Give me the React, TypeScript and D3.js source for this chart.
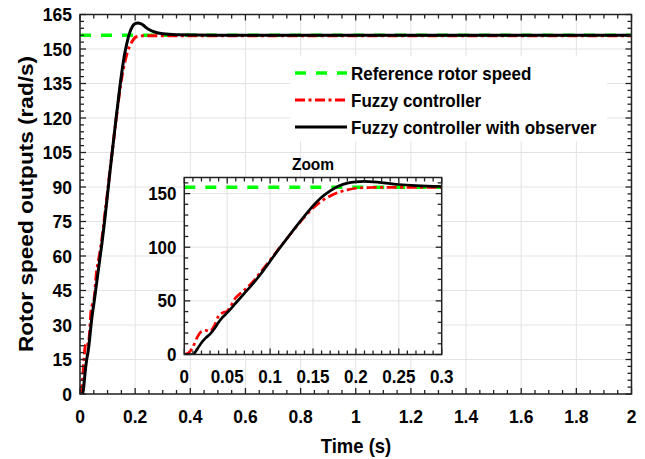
import React from "react";
import * as d3 from "d3";

// time samples (s) shared by both controller responses
const timeS = [
  0, 0.005, 0.01, 0.015, 0.02, 0.025, 0.03, 0.035, 0.04, 0.045, 0.05, 0.06, 0.07, 0.08, 0.09,
  0.1, 0.11, 0.12, 0.13, 0.14, 0.15, 0.16, 0.17, 0.18, 0.19, 0.2, 0.21, 0.22, 0.23, 0.24,
  0.25, 0.27, 0.3, 0.35, 0.5, 1, 2,
];
const fuzzySpeed = [
  0, 1.5, 7, 16, 21.5, 22.5, 21.5, 27, 36, 39, 40.5, 53, 60, 68, 78,
  88, 98.5, 108.5, 118.5, 128, 136.5, 143, 147.8, 151.3, 153.5, 155, 155.5, 155.7, 155.8, 155.8,
  155.8, 155.8, 155.8, 155.8, 155.8, 155.8, 155.8,
];
const observerSpeed = [
  0, 0, 0, 5, 11, 15.5, 19, 24, 30, 35, 39, 48, 57, 66, 76,
  87, 98, 108.5, 119, 129, 138.5, 146.5, 152.5, 157, 159.8, 161, 161.3, 161, 160.3, 159.3,
  158.5, 157.4, 156.6, 156.2, 156, 156, 156,
];
const refTime = [0, 2];
const refSpeed = [156, 156];

const mainXTicks = [0, 0.2, 0.4, 0.6, 0.8, 1, 1.2, 1.4, 1.6, 1.8, 2];
const mainYTicks = [0, 15, 30, 45, 60, 75, 90, 105, 120, 135, 150, 165];
const insetXTicks = [0, 0.05, 0.1, 0.15, 0.2, 0.25, 0.3];
const insetYTicks = [0, 50, 100, 150];

const legendLabels = ["Reference rotor speed", "Fuzzy controller", "Fuzzy controller with observer"];

const FONT = "'Liberation Sans', Arial, Helvetica, sans-serif";
const GREEN = "#00ff00";
const RED = "#ff0000";
const BLACK = "#000000";
const GRID = "#e3e3e3";

type Scale = d3.ScaleLinear<number, number>;

function Txt({ x, y, size, anchor = "start", sy = 1.09, children }: any) {
  return (
    <text
      transform={`translate(${x},${y}) scale(1,${sy})`}
      fontFamily={FONT}
      fontWeight="bold"
      fontSize={size}
      textAnchor={anchor}
      fill="#000"
    >
      {children}
    </text>
  );
}

function Panel({ id, xs, ys, xTicks, yTicks, xMinor, yMinor, tickSize, xLabelY, yLabelX, fmt, lw }: any) {
  const [x0, x1] = xs.range() as number[];
  const [y0, y1] = ys.range() as number[]; // y0 bottom, y1 top
  const line = (xv: number[], yv: number[]) =>
    d3
      .line<number>()
      .x((_, i) => xs(xv[i]))
      .y((_, i) => ys(yv[i]))
      .curve(d3.curveMonotoneX)(xv) as string;
  const maj = 6;
  const mnr = 4;
  return (
    <g>
      <defs>
        <clipPath id={id}>
          <rect x={x0} y={y1} width={x1 - x0} height={y0 - y1} />
        </clipPath>
      </defs>
      <rect x={x0} y={y1} width={x1 - x0} height={y0 - y1} fill="#fff" />
      {xTicks.map((t: number) => (
        <line key={"gx" + t} x1={xs(t)} x2={xs(t)} y1={y0} y2={y1} stroke={GRID} strokeWidth={1} />
      ))}
      {yTicks.map((t: number) => (
        <line key={"gy" + t} x1={x0} x2={x1} y1={ys(t)} y2={ys(t)} stroke={GRID} strokeWidth={1} />
      ))}
      <g clipPath={`url(#${id})`}>
        <path d={line(refTime, refSpeed)} fill="none" stroke={GREEN} strokeWidth={3.5} strokeDasharray="11 10" />
        <path d={line(timeS, fuzzySpeed)} fill="none" stroke={RED} strokeWidth={lw} strokeDasharray="10 3.5 3 3.5" />
        <path d={line(timeS, observerSpeed)} fill="none" stroke={BLACK} strokeWidth={lw} />
      </g>
      {xMinor.map((t: number) => {
        const m = xTicks.some((v: number) => Math.abs(v - t) < 1e-9) ? maj : mnr;
        return (
          <g key={"tx" + t}>
            <line x1={xs(t)} x2={xs(t)} y1={y0} y2={y0 - m} stroke="#222" strokeWidth={1.3} />
            <line x1={xs(t)} x2={xs(t)} y1={y1} y2={y1 + m} stroke="#222" strokeWidth={1.3} />
          </g>
        );
      })}
      {yMinor.map((t: number) => {
        const m = yTicks.some((v: number) => Math.abs(v - t) < 1e-9) ? maj : mnr;
        return (
          <g key={"ty" + t}>
            <line x1={x0} x2={x0 + m} y1={ys(t)} y2={ys(t)} stroke="#222" strokeWidth={1.3} />
            <line x1={x1} x2={x1 - m} y1={ys(t)} y2={ys(t)} stroke="#222" strokeWidth={1.3} />
          </g>
        );
      })}
      <rect x={x0} y={y1} width={x1 - x0} height={y0 - y1} fill="none" stroke="#222" strokeWidth={1.5} />
      {xTicks.map((t: number) => (
        <Txt key={"lx" + t} x={xs(t)} y={xLabelY} size={tickSize} anchor="middle">
          {fmt(t)}
        </Txt>
      ))}
      {yTicks.map((t: number) => (
        <Txt key={"ly" + t} x={yLabelX} y={ys(t) + 6.5} size={tickSize} anchor="end">
          {t}
        </Txt>
      ))}
    </g>
  );
}

export default function App() {
  const W = 645;
  const H = 459;
  const mainX: Scale = d3.scaleLinear().domain([0, 2]).range([80, 631.5]);
  const mainY: Scale = d3.scaleLinear().domain([0, 165]).range([394, 14.5]);
  const insetX: Scale = d3.scaleLinear().domain([0, 0.3]).range([184.3, 441.7]);
  const insetY: Scale = d3.scaleLinear().domain([0, 165]).range([354.5, 177.5]);

  const mainXMinor = d3.range(0, 2.0001, 0.05).map((v) => +v.toFixed(3));
  const mainYMinor = d3.range(0, 165.001, 3);
  const insetXMinor = d3.range(0, 0.30001, 0.01).map((v) => +v.toFixed(3));
  const insetYMinor = d3.range(0, 165.001, 10);

  const fmt = (v: number) => String(+v.toFixed(2));
  const legendY = [73, 100, 127];

  return (
    <svg width={W} height={H} style={{ position: "absolute", left: 0, top: 0, background: "#fff" }}>
      <rect width={W} height={H} fill="#fff" />
      <Panel
        id="clip-main"
        xs={mainX}
        ys={mainY}
        xTicks={mainXTicks}
        yTicks={mainYTicks}
        xMinor={mainXMinor}
        yMinor={mainYMinor}
        tickSize={17.5}
        xLabelY={423}
        yLabelX={72}
        fmt={fmt}
        lw={3}
      />
      {/* legend */}
      <rect x={290} y={56} width={317} height={85} fill="#fff" />
      <line x1={295} x2={347} y1={legendY[0]} y2={legendY[0]} stroke={GREEN} strokeWidth={3.5} strokeDasharray="11 10" />
      <line x1={295} x2={347} y1={legendY[1]} y2={legendY[1]} stroke={RED} strokeWidth={3} strokeDasharray="10 3.5 3 3.5" />
      <line x1={295} x2={347} y1={legendY[2]} y2={legendY[2]} stroke={BLACK} strokeWidth={3} />
      {legendLabels.map((l, i) => (
        <Txt key={l} x={351} y={legendY[i] + 6.5} size={17}>
          {l}
        </Txt>
      ))}
      {/* inset */}
      <Txt x={313} y={170} size={15.5} anchor="middle">
        Zoom
      </Txt>
      <Panel
        id="clip-inset"
        xs={insetX}
        ys={insetY}
        xTicks={insetXTicks}
        yTicks={insetYTicks}
        xMinor={insetXMinor}
        yMinor={insetYMinor}
        tickSize={17}
        xLabelY={383}
        yLabelX={176.5}
        fmt={fmt}
        lw={2.7}
      />
      {/* axis titles */}
      <Txt x={356} y={453} size={18.5} anchor="middle" sy={1.12}>
        Time (s)
      </Txt>
      <text
        transform={`translate(33,204) rotate(-90) scale(1.13,1)`}
        fontFamily={FONT}
        fontWeight="bold"
        fontSize={20}
        textAnchor="middle"
      >
        Rotor speed outputs (rad/s)
      </text>
    </svg>
  );
}
